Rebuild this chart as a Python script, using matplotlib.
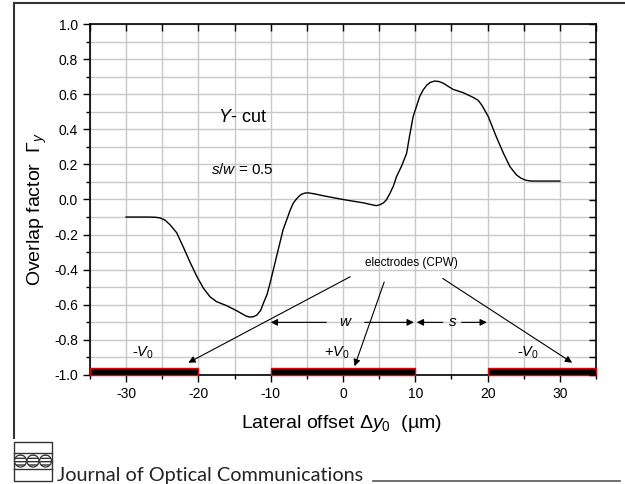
import matplotlib
matplotlib.use("Agg")
import matplotlib.pyplot as plt
from matplotlib.lines import Line2D
from matplotlib.patches import Rectangle, Ellipse
from matplotlib.ticker import MultipleLocator

plt.rcParams["font.family"] = ["Liberation Sans", "DejaVu Sans"]
plt.rcParams["mathtext.fontset"] = "custom"
plt.rcParams["mathtext.rm"] = "Liberation Sans"
plt.rcParams["mathtext.it"] = "Liberation Sans:italic"
plt.rcParams["axes.unicode_minus"] = False

# overlap factor curve
offset_um = [-30, -27, -26.0, -25.3, -24.6, -23.9, -23.0, -22.1, -21.2, -20.2, -19.3,
             -18.4, -17.5, -16.1, -14.7, -13.6, -13.2, -12.9, -12.4, -11.9, -11.4,
             -11.0, -10.5, -10.1, -9.2, -8.3, -7.3, -6.9, -6.5, -6.1, -5.7, -5.2,
             -4.8, -3.8, -2.7, 0.0, 2.8, 4.0, 4.6, 5.1, 5.6, 6.0, 6.5, 7.0, 7.4,
             8.1, 8.8, 9.2, 9.7, 10.2, 10.6, 11.1, 11.6, 12.1, 12.7, 13.3, 13.9,
             15.2, 16.6, 18.0, 18.7, 19.2, 20.1, 21.2, 22.2, 23.1, 24.0, 24.6, 25.2,
             25.8, 26.3, 30.0]
overlap = [-0.10, -0.10, -0.101, -0.105, -0.118, -0.145, -0.19, -0.27, -0.354,
           -0.44, -0.506, -0.554, -0.582, -0.605, -0.634, -0.660, -0.667, -0.670,
           -0.668, -0.658, -0.632, -0.59, -0.54, -0.478, -0.326, -0.174, -0.06,
           -0.022, 0.000, 0.018, 0.031, 0.037, 0.038, 0.031, 0.021, 0.0, -0.019,
           -0.030, -0.035, -0.030, -0.019, -0.002, 0.035, 0.08, 0.13, 0.19, 0.263,
           0.36, 0.472, 0.535, 0.586, 0.625, 0.652, 0.668, 0.675, 0.672, 0.662,
           0.628, 0.609, 0.582, 0.565, 0.538, 0.472, 0.358, 0.263, 0.187, 0.14,
           0.122, 0.111, 0.106, 0.105, 0.105]

# electrodes: (start, end, label, label x)
electrodes = [(-35, -20, r"-$\mathit{V}_0$", -27.7),
              (-10, 10, r"+$\mathit{V}_0$", -0.8),
              (20, 35, r"-$\mathit{V}_0$", 25.6)]

W, H = 625, 484
fig = plt.figure(figsize=(W / 100, H / 100), dpi=100)
rect = [90 / W, 1 - 375 / H, 506 / W, 351 / H]
ax = fig.add_axes(rect)


def fx(px):
    return px / W


def fy(py):
    return 1 - py / H


ax.plot(offset_um, overlap, color="black", lw=1.0, zorder=3)

for x0, x1, lab, lx in electrodes:
    ax.add_patch(Rectangle((x0, -1.0), x1 - x0, 0.04, facecolor="black",
                           edgecolor="#e00000", lw=1.0, zorder=4, clip_on=False))
    ax.text(lx, -0.875, lab, ha="center", va="center", fontsize=10.5)

ax.set_xlim(-35, 35)
ax.set_ylim(-1.0, 1.0)
ax.set_xticks([-30, -20, -10, 0, 10, 20, 30])
ax.xaxis.set_minor_locator(MultipleLocator(5))
ax.yaxis.set_major_locator(MultipleLocator(0.2))
ax.yaxis.set_minor_locator(MultipleLocator(0.1))
ax.yaxis.set_major_formatter(lambda v, p: f"{v:.1f}")
ax.tick_params(which="both", direction="out", labelsize=10, width=1.0)
ax.tick_params(which="major", length=5)
ax.tick_params(which="minor", length=3)
ax.grid(True, which="both", color="#c8c8c8", lw=1.0, zorder=0)
for sp in ax.spines.values():
    sp.set_linewidth(1.2)

# inward ticks on top and right, drawn on an empty overlay
top = fig.add_axes(rect, frameon=False, zorder=5)
top.set_xlim(-35, 35)
top.set_ylim(-1.0, 1.0)
top.xaxis.set_major_locator(MultipleLocator(5))
top.yaxis.set_major_locator(MultipleLocator(0.1))
top.tick_params(direction="in", length=5, width=1.0, top=True, right=True,
                bottom=False, left=False, labelbottom=False, labelleft=False)
top.patch.set_visible(False)

fig.text(fx(37), fy(209), r"Overlap factor  $\mathit{Γ}_y$", rotation=90,
         ha="center", va="center", fontsize=14)
fig.text(fx(342), fy(424), r"Lateral offset $\Delta\mathit{y}_0$  (µm)",
         ha="center", va="center", fontsize=14)

ax.text(-17.3, 0.47, r"$\mathit{Y}$- cut", ha="left", va="center", fontsize=13)
ax.text(-18.3, 0.17, r"$\mathit{s/w}$ = 0.5", ha="left", va="center", fontsize=11)
ax.text(9.4, -0.36, "electrodes (CPW)", ha="center", va="center", fontsize=8.5)

arrow = dict(arrowstyle="-|>", color="black", lw=0.8, mutation_scale=10,
             shrinkA=0, shrinkB=0)
ax.annotate("", xy=(-21.4, -0.93), xytext=(1.0, -0.44), arrowprops=arrow)
ax.annotate("", xy=(1.6, -0.95), xytext=(5.7, -0.47), arrowprops=arrow)
ax.annotate("", xy=(31.7, -0.93), xytext=(13.8, -0.45), arrowprops=arrow)

ax.annotate("", xy=(-10.0, -0.70), xytext=(-2.3, -0.70), arrowprops=arrow)
ax.annotate("", xy=(9.8, -0.70), xytext=(3.0, -0.70), arrowprops=arrow)
ax.text(0.4, -0.70, r"$\mathit{w}$", ha="center", va="center", fontsize=11)
ax.annotate("", xy=(10.2, -0.70), xytext=(13.8, -0.70), arrowprops=arrow)
ax.annotate("", xy=(19.9, -0.70), xytext=(16.4, -0.70), arrowprops=arrow)
ax.text(15.2, -0.70, r"$\mathit{s}$", ha="center", va="center", fontsize=11)

# page frame and journal footer
frame = "#333333"
fig.add_artist(Line2D([fx(14), 1.0], [fy(3), fy(3)], color=frame, lw=1.5))
fig.add_artist(Line2D([fx(14), fx(14)], [fy(3), fy(438)], color=frame, lw=1.5))
fig.add_artist(Rectangle((fx(14), fy(481)), fx(52) - fx(14), fy(442) - fy(481),
                         transform=fig.transFigure, fill=False, ec=frame, lw=1.0))
for yy in (453, 469):
    fig.add_artist(Line2D([fx(14), fx(52)], [fy(yy), fy(yy)], color=frame, lw=1.0))
for cx in (20.5, 33, 45.5):
    fig.add_artist(Ellipse((fx(cx), fy(461)), fx(12), fx(12) * W / H,
                           transform=fig.transFigure, fc="white", ec=frame,
                           lw=0.9, hatch="-----"))
fig.text(fx(57), fy(481), "Journal of Optical Communications", ha="left",
         va="baseline", fontsize=14.3, color="#222222", family=["Lato", "DejaVu Sans"])
fig.add_artist(Line2D([fx(373), fx(620)], [fy(481), fy(481)], color="#555555", lw=1.2))

fig.savefig("out.png", dpi=100)
